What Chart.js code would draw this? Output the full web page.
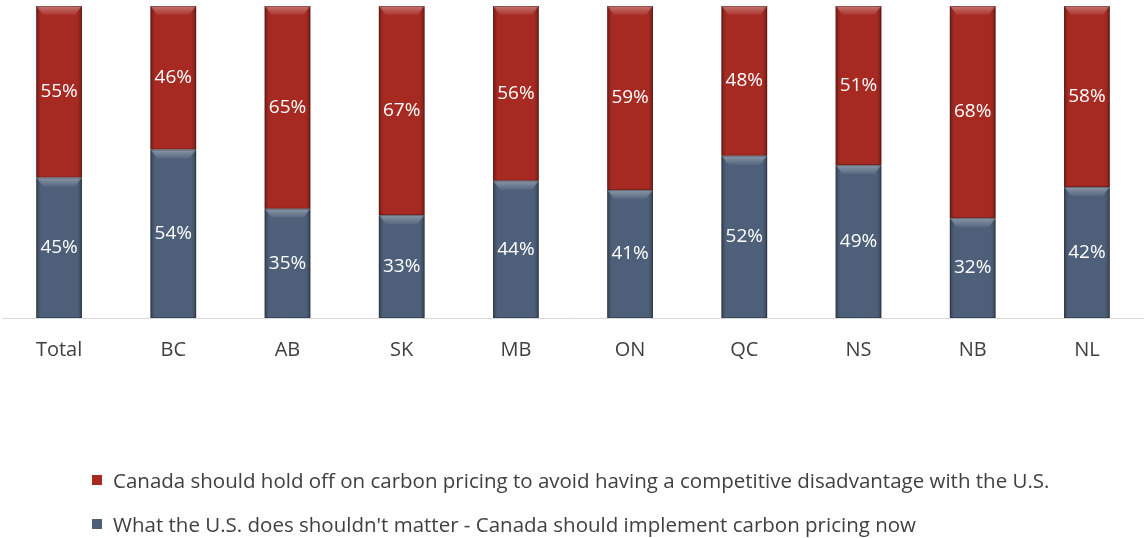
<!DOCTYPE html>
<html>
<head>
<meta charset="utf-8">
<script src="https://cdn.jsdelivr.net/npm/chart.js@4.4.1/dist/chart.umd.min.js"></script>
<style>
  body { margin: 0; background: #fff; }
  #wrap { position: relative; width: 1144px; height: 538px; }
  #legend { position: absolute; left: 92px; top: 466px; font-family: 'Open Sans', sans-serif; font-size: 20.5px; color: #404040; }
  #legend div { height: 44px; display: flex; align-items: flex-start; white-space: nowrap; }
  #legend span.box { display: inline-block; width: 10px; height: 10px; margin: 9px 11px 0 0; flex: none; }
</style>
</head>
<body>
<div id="wrap">
  <canvas id="myBars" width="1144" height="538"></canvas>
  <div id="legend"></div>
</div>
<script>
var regions = ['Total', 'BC', 'AB', 'SK', 'MB', 'ON', 'QC', 'NS', 'NB', 'NL'];
var implementNow = [45, 54, 35, 33, 44, 41, 52, 49, 32, 42];
var holdOff = [55, 46, 65, 67, 56, 59, 48, 51, 68, 58];

var implementLabel = "What the U.S. does shouldn't matter - Canada should implement carbon pricing now";
var holdOffLabel = 'Canada should hold off on carbon pricing to avoid having a competitive disadvantage with the U.S.';

var blue = '#4e6079';
var red = '#a62a22';

// light bevel on top, darker sides
var bevel = {
	id: 'bevel',
	afterDatasetsDraw: function(chart) {
		var ctx = chart.ctx;
		chart.data.datasets.forEach(function(ds, i) {
			chart.getDatasetMeta(i).data.forEach(function(bar) {
				var p = bar.getProps(['x', 'y', 'base', 'width'], true);
				var l = p.x - p.width / 2, r = p.x + p.width / 2;
				var t = Math.min(p.y, p.base), b = Math.max(p.y, p.base);
				ctx.save();
				var g = ctx.createLinearGradient(l, 0, r, 0);
				g.addColorStop(0, 'rgba(0,0,0,0.28)');
				g.addColorStop(0.1, 'rgba(0,0,0,0)');
				g.addColorStop(0.9, 'rgba(0,0,0,0)');
				g.addColorStop(1, 'rgba(0,0,0,0.28)');
				ctx.fillStyle = g;
				ctx.fillRect(l, t, r - l, b - t);
				var h = 9;
				var tg = ctx.createLinearGradient(0, t, 0, t + h);
				tg.addColorStop(0, 'rgba(255,255,255,0.35)');
				tg.addColorStop(1, 'rgba(255,255,255,0.05)');
				ctx.fillStyle = tg;
				ctx.beginPath();
				ctx.moveTo(l, t);
				ctx.lineTo(r, t);
				ctx.lineTo(r - 7, t + h);
				ctx.lineTo(l + 7, t + h);
				ctx.closePath();
				ctx.fill();
				ctx.strokeStyle = 'rgba(0,0,0,0.25)';
				ctx.lineWidth = 1;
				ctx.strokeRect(l + 0.5, t + 0.5, r - l - 1, b - t - 1);
				ctx.restore();
			});
		});
	}
};

// percentage labels in the middle of each segment
var valueLabels = {
	id: 'valueLabels',
	afterDatasetsDraw: function(chart) {
		var ctx = chart.ctx;
		ctx.save();
		ctx.font = '19px "Open Sans"';
		ctx.fillStyle = '#ffffff';
		ctx.textAlign = 'center';
		ctx.textBaseline = 'middle';
		chart.data.datasets.forEach(function(ds, i) {
			chart.getDatasetMeta(i).data.forEach(function(bar, j) {
				var p = bar.getProps(['x', 'y', 'base'], true);
				ctx.fillText(ds.data[j] + '%', p.x, (p.y + p.base) / 2);
			});
		});
		ctx.restore();
	}
};

var config = {
	type: 'bar',
	data: {
		labels: regions,
		datasets: [{
			label: implementLabel,
			data: implementNow,
			backgroundColor: blue
		}, {
			label: holdOffLabel,
			data: holdOff,
			backgroundColor: red
		}]
	},
	options: {
		responsive: false,
		animation: false,
		layout: { padding: { left: 2, right: 0, top: 6, bottom: 164 } },
		plugins: {
			legend: { display: false },
			tooltip: { enabled: false }
		},
		scales: {
			x: {
				stacked: true,
				grid: { display: false },
				border: { display: true, color: '#d9d9d9', width: 1 },
				ticks: { color: '#404040', font: { family: 'Open Sans', size: 20 }, padding: 12 }
			},
			y: {
				stacked: true,
				display: false,
				min: 0,
				max: 100
			}
		},
		datasets: {
			bar: { barPercentage: 0.4, categoryPercentage: 1 }
		}
	},
	plugins: [bevel, valueLabels]
};

var myBars = new Chart(document.getElementById('myBars'), config);

// legend, top series first
var legend = document.getElementById('legend');
config.data.datasets.slice().reverse().forEach(function(ds) {
	var row = document.createElement('div');
	row.innerHTML = '<span class="box" style="background:' + ds.backgroundColor + '"></span>' + ds.label;
	legend.appendChild(row);
});
</script>
</body>
</html>
